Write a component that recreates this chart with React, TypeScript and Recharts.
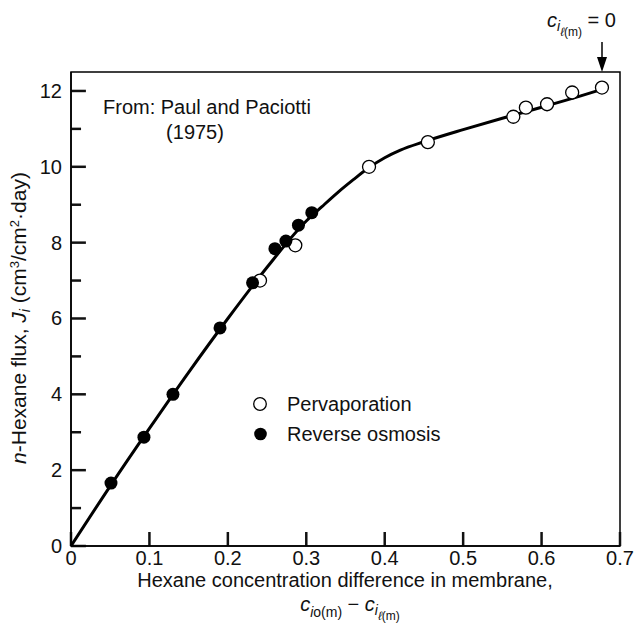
import { ComposedChart, Line, Scatter, XAxis, YAxis, ReferenceArea, ReferenceLine } from 'recharts';

const FONT = '"Liberation Sans", Arial, Helvetica, sans-serif';

// curve
const curveX = [0, 0.05, 0.1, 0.15, 0.2, 0.25, 0.3, 0.32, 0.34, 0.36, 0.38, 0.4, 0.42, 0.45, 0.5, 0.55, 0.6, 0.65, 0.68];
const curveY = [0, 1.58, 3.1, 4.58, 6.0, 7.35, 8.57, 8.95, 9.32, 9.66, 9.98, 10.24, 10.44, 10.66, 10.98, 11.28, 11.57, 11.87, 12.06];

const pervapX = [0.241, 0.286, 0.38, 0.455, 0.564, 0.58, 0.607, 0.639, 0.677];
const pervapY = [7.0, 7.93, 10.0, 10.65, 11.32, 11.56, 11.65, 11.96, 12.09];

const roX = [0.051, 0.093, 0.13, 0.19, 0.2315, 0.26, 0.274, 0.29, 0.307];
const roY = [1.66, 2.87, 4.0, 5.75, 6.94, 7.84, 8.04, 8.46, 8.79];

const xTicks = [0, 0.1, 0.2, 0.3, 0.4, 0.5, 0.6, 0.7];
const yTicks = [0, 1, 2, 3, 4, 5, 6, 7, 8, 9, 10, 11, 12];

const curve = curveX.map((x, i) => ({ x, y: curveY[i] }));
const pervap = pervapX.map((x, i) => ({ x, y: pervapY[i] }));
const ro = roX.map((x, i) => ({ x, y: roY[i] }));

const PLOT_LEFT = 71;
const PLOT_BOTTOM = 546;
// inward tick lengths, in data units
const X_TICK_LEN = 0.37;
const Y_TICK_MAJOR = 0.019;
const Y_TICK_MINOR = 0.0128;

const XTick = ({ x, payload }: any) => (
  <text x={x} y={PLOT_BOTTOM + 19} textAnchor="middle" fontSize={20} fontFamily={FONT} fill="#111">
    {payload.value}
  </text>
);

const YTick = ({ y, payload }: any) =>
  payload.value % 2 === 0 ? (
    <text x={PLOT_LEFT - 9} y={y + 7} textAnchor="end" fontSize={20} fontFamily={FONT} fill="#111">
      {payload.value}
    </text>
  ) : (
    <g />
  );

const openDot = ({ cx, cy }: any) => (
  <circle cx={cx} cy={cy} r={6.5} fill="#fff" stroke="#000" strokeWidth={1.3} />
);
const filledDot = ({ cx, cy }: any) => <circle cx={cx} cy={cy} r={6.5} fill="#000" />;

export default function App() {
  return (
    <div style={{ position: 'absolute', left: 0, top: 0, width: 634, height: 638, background: '#fff' }}>
      <ComposedChart
        width={634}
        height={638}
        margin={{ top: 72, right: 14, bottom: 0, left: PLOT_LEFT - 1 }}
      >
        <XAxis
          dataKey="x"
          type="number"
          domain={[0, 0.7]}
          ticks={xTicks}
          tick={<XTick />}
          tickLine={false}
          height={92}
          axisLine={{ stroke: '#000', strokeWidth: 1.5 }}
          allowDataOverflow
        />
        <YAxis
          dataKey="y"
          type="number"
          domain={[0, 12.5]}
          ticks={yTicks}
          tick={<YTick />}
          tickLine={false}
          width={1}
          interval={0}
          axisLine={{ stroke: '#000', strokeWidth: 1.5 }}
          allowDataOverflow
        />
        <ReferenceArea x1={0} x2={0.7} y1={0} y2={12.5} fill="none" stroke="#000" strokeWidth={1.5} />
        {/* inward ticks */}
        {xTicks.map((t) => (
          <ReferenceLine
            key={`xt-${t}`}
            segment={[{ x: t, y: 0 }, { x: t, y: X_TICK_LEN }]}
            stroke="#111"
            strokeWidth={2.5}
            ifOverflow="visible"
          />
        ))}
        {yTicks.map((t) => (
          <ReferenceLine
            key={`yt-${t}`}
            segment={[{ x: 0, y: t }, { x: t % 2 === 0 ? Y_TICK_MAJOR : Y_TICK_MINOR, y: t }]}
            stroke="#111"
            strokeWidth={2.5}
            ifOverflow="visible"
          />
        ))}
        <Line
          data={curve}
          dataKey="y"
          type="monotone"
          stroke="#000"
          strokeWidth={3}
          dot={false}
          isAnimationActive={false}
          legendType="none"
        />
        <Scatter data={pervap} dataKey="y" name="Pervaporation" shape={openDot} isAnimationActive={false} />
        <Scatter data={ro} dataKey="y" name="Reverse osmosis" shape={filledDot} isAnimationActive={false} />
      </ComposedChart>

      <svg
        width={634}
        height={638}
        style={{ position: 'absolute', left: 0, top: 0, pointerEvents: 'none' }}
        fontFamily={FONT}
        fill="#111"
      >
        <text x={103} y={114} fontSize={20}>From: Paul and Paciotti</text>
        <text x={195} y={139} fontSize={20} textAnchor="middle">(1975)</text>

        <circle cx={260} cy={404} r={6.3} fill="#fff" stroke="#000" strokeWidth={1.3} />
        <text x={287} y={411} fontSize={20}>Pervaporation</text>
        <circle cx={260.5} cy={434} r={6.3} fill="#000" />
        <text x={287} y={441} fontSize={20}>Reverse osmosis</text>

        <text x={547} y={27} fontSize={20}>
          <tspan fontStyle="italic">c</tspan>
          <tspan fontStyle="italic" fontSize={14} dy={4}>i</tspan>
          <tspan fontSize={12} dy={5}>
            <tspan fontStyle="italic">ℓ</tspan>(m)
          </tspan>
          <tspan dy={-9}> = 0</tspan>
        </text>
        <line x1={602} y1={42} x2={602} y2={60} stroke="#000" strokeWidth={1.5} />
        <polygon points="597,57 607,57 602,72" fill="#000" />

        <text x={345} y={587} fontSize={20} textAnchor="middle">
          Hexane concentration difference in membrane,
        </text>
        <text x={350} y={611} fontSize={20} textAnchor="middle">
          <tspan fontStyle="italic">c</tspan>
          <tspan fontSize={14} dy={6}><tspan fontStyle="italic">i</tspan>o(m)</tspan>
          <tspan dy={-6}> − </tspan>
          <tspan fontStyle="italic">c</tspan>
          <tspan fontStyle="italic" fontSize={14} dy={4}>i</tspan>
          <tspan fontSize={12} dy={5}>
            <tspan fontStyle="italic">ℓ</tspan>(m)
          </tspan>
        </text>

        <text transform="translate(26, 318) rotate(-90)" fontSize={21} textAnchor="middle">
          <tspan fontStyle="italic">n</tspan>-Hexane flux, <tspan fontStyle="italic">J</tspan>
          <tspan fontStyle="italic" fontSize={14} dy={4}>i</tspan>
          <tspan dy={-4}> (cm</tspan>
          <tspan fontSize={13} dy={-7}>3</tspan>
          <tspan dy={7}>/cm</tspan>
          <tspan fontSize={13} dy={-7}>2</tspan>
          <tspan dy={7}>·day)</tspan>
        </text>
      </svg>
    </div>
  );
}
